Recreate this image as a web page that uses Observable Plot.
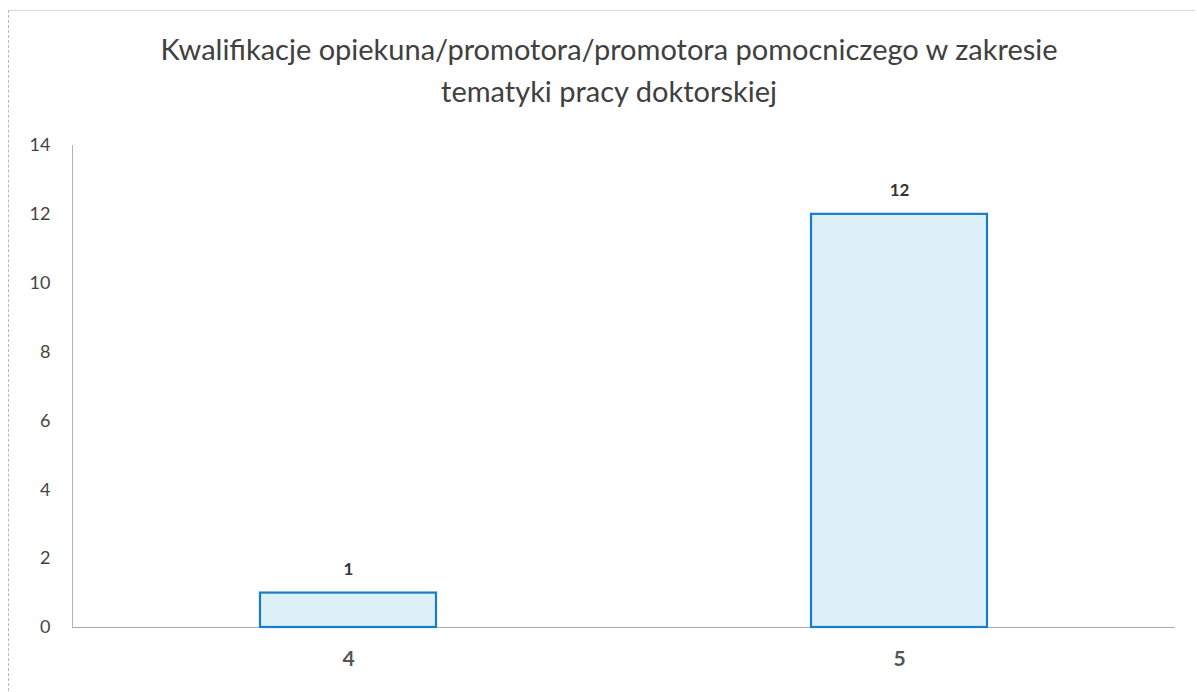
<!DOCTYPE html>
<html>
<head>
<meta charset="utf-8">
<script src="https://cdn.jsdelivr.net/npm/d3@7"></script>
<script src="https://cdn.jsdelivr.net/npm/@observablehq/plot@0.6"></script>
<style>
  body { margin: 0; background: #fff; }
  #wrap { position: relative; width: 1197px; height: 692px; overflow: hidden; }
  #frame { position: absolute; left: 8px; top: 10px; width: 1186px; height: 690px; border-left: 1px dashed #b8b8b8; border-top: 1px solid #d8d8d8; }
  svg { position: absolute; left: 0; top: 0; }
</style>
</head>
<body>
<div id="wrap"><div id="frame"></div></div>
<script>
const title = "Kwalifikacje opiekuna/promotora/promotora pomocniczego w zakresie\ntematyki pracy doktorskiej";
const categories = ["4", "5"];
const values = [1, 12];
const yTicks = [0, 2, 4, 6, 8, 10, 12, 14];

const data = categories.map((c, i) => ({category: c, value: values[i]}));
const font = "Lato, 'Open Sans', sans-serif";

const chart = Plot.plot({
  width: 1197,
  height: 692,
  marginLeft: 72,
  marginRight: 22,
  marginTop: 145,
  marginBottom: 65,
  style: {fontFamily: font, background: "transparent"},
  x: {domain: categories, paddingInner: 0.68, paddingOuter: 0.34, label: null},
  y: {domain: [0, 14], label: null},
  marks: [
    Plot.axisY({ticks: yTicks, tickSize: 0, tickPadding: 22, fontSize: 18, color: "#444", label: null}),
    Plot.axisX({tickSize: 0, tickPadding: 24, fontSize: 21, fontWeight: "bold", color: "#555", label: null}),
    Plot.frame({anchor: "left", stroke: "#b0b4c0", strokeWidth: 1}),
    Plot.ruleY([0], {stroke: "#a8acb8", strokeWidth: 1}),
    Plot.barY(data, {x: "category", y: "value", fill: "#dcf0f8", stroke: "#1b7bc6", strokeWidth: 2.2}),
    Plot.text(data, {x: "category", y: "value", text: d => String(d.value), dy: -24, fontSize: 17, fontWeight: "bold", fill: "#333"}),
    Plot.text([title], {frameAnchor: "top", dx: -15, dy: -115, fontSize: 29, lineHeight: 1.45, fill: "#404040", textAnchor: "middle"})
  ]
});
document.getElementById("wrap").appendChild(chart);
</script>
</body>
</html>
